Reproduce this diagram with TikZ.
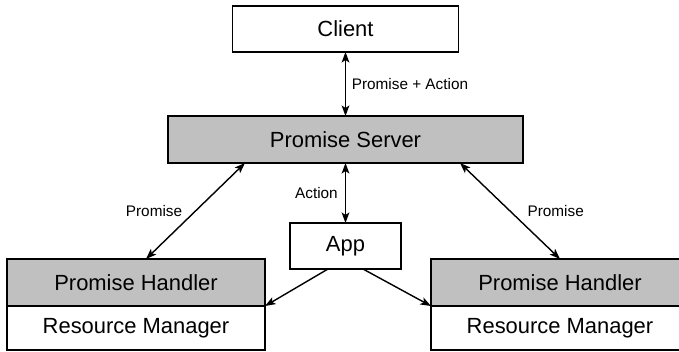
\documentclass[tikz,border=0pt]{standalone}
\usepackage{fontspec}
\setmainfont{Liberation Sans}
\usepackage{tikz}
\usetikzlibrary{arrows.meta, positioning, calc}
\definecolor{boxgray}{RGB}{192, 192, 192}

\begin{document}
\begin{tikzpicture}[x=0.025cm, y=-0.025cm,
    >={Stealth[length=7.5pt, width=5.5pt, inset=1.8pt]},
    box/.style={draw, line width=1pt, inner sep=0pt, outer sep=0pt, minimum height=1.15cm,
        font=\fontsize{15.6}{18}\selectfont},
    link/.style={line width=1pt},
    tag/.style={inner sep=0pt, font=\fontsize{10.9}{13}\selectfont}]
    \useasboundingbox (0,0) rectangle (679,351);
    \clip (0,0) rectangle (679,351);

    % top row
    \node[box, minimum width=5.65cm] (client) at (345.5,29) {Client};
    \node[box, fill=boxgray, minimum width=8.875cm, minimum height=1.175cm] (server) at (345.5,139.5) {Promise Server};
    \node[box, minimum width=2.775cm] (app) at (345.5,246) {App};

    % handler + manager stacks
    \node[box, fill=boxgray, minimum width=6.45cm, minimum height=1.175cm] (lhandler) at (136,282.5) {Promise Handler};
    \node[box, minimum width=6.45cm, minimum height=1.1cm, below=0pt of lhandler] (lmanager) {Resource Manager};
    \node[box, fill=boxgray, minimum width=6.45cm, minimum height=1.175cm] (rhandler) at (560,282.5) {Promise Handler};
    \node[box, minimum width=6.45cm, minimum height=1.1cm, below=0pt of rhandler] (rmanager) {Resource Manager};

    \draw[link, <->] (client) -- (server) node[midway, right=4pt, tag] {Promise + Action};
    \draw[link, <->] (server) -- (app) node[midway, left=5pt, tag] {Action};

    \draw[link, <->] ($(lhandler.north)+(10,0)$) -- ($(server.south west)+(77,0)$)
        node[midway, left=9pt, tag] {Promise};
    \draw[link, <->] ($(server.south east)+(-63,0)$) -- (rhandler.north)
        node[midway, right=12pt, tag] {Promise};

    % App calls into both managers
    \coordinate (appl) at ($(app.south west)+(38,0)$);
    \coordinate (appr) at ($(app.south east)+(-38,0)$);
    \draw[link, ->] (appl) -- (lhandler.south east);
    \draw[link, ->] (appr) -- (rhandler.south west);
\end{tikzpicture}
\end{document}
